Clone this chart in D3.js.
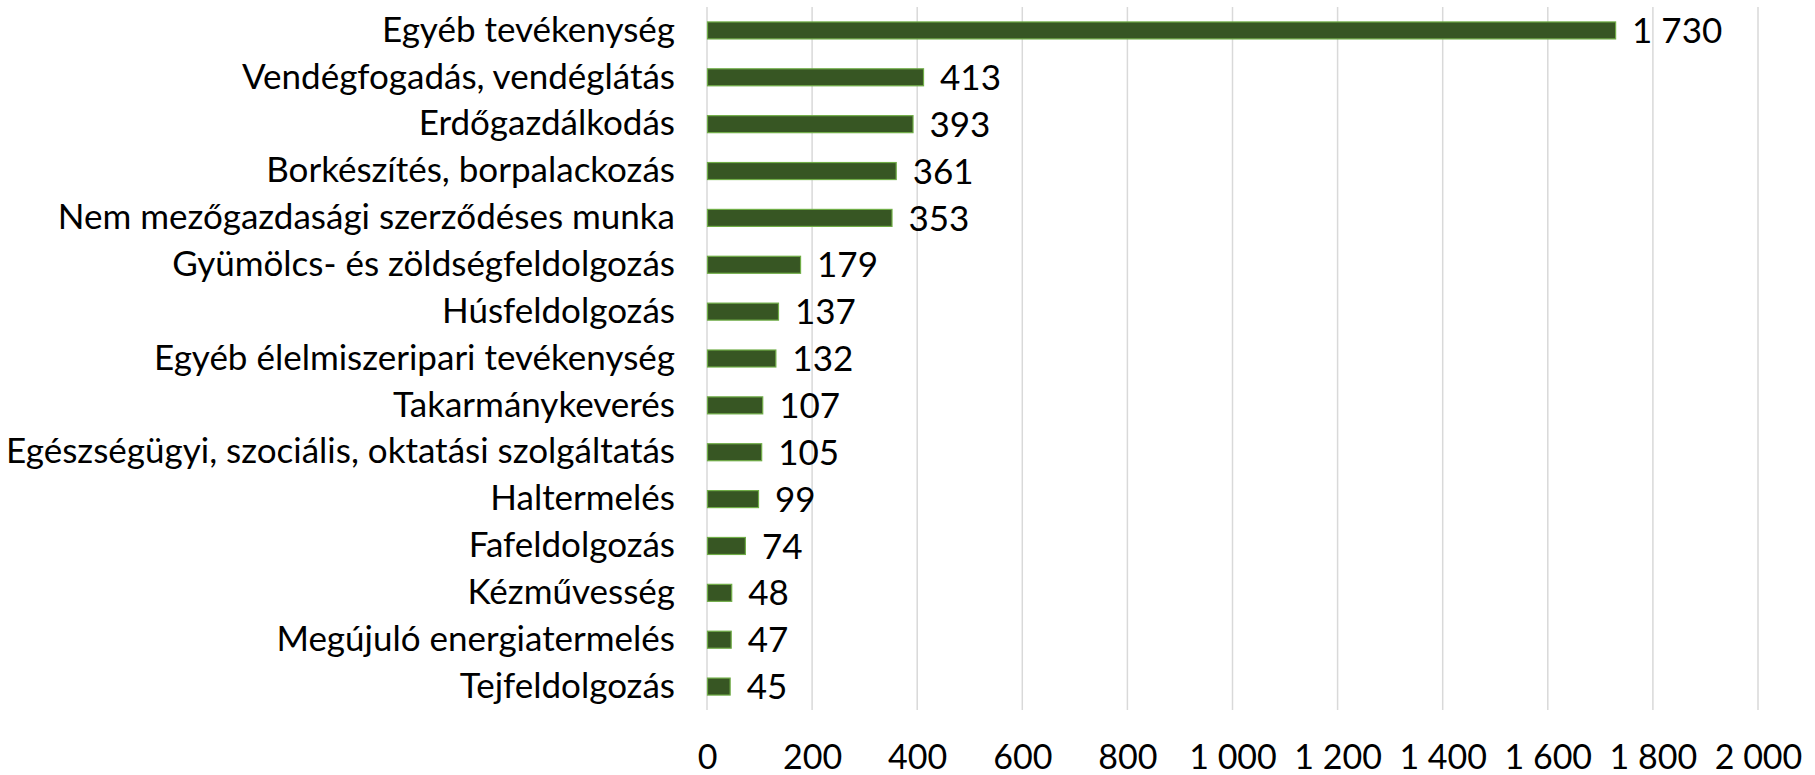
<!DOCTYPE html>
<html>
<head>
<meta charset="utf-8">
<script src="https://cdn.jsdelivr.net/npm/d3@7"></script>
<style>
  html, body { margin: 0; padding: 0; background: #fff; }
  svg { display: block; }
  text { font-family: Lato, "Open Sans", sans-serif; fill: #000; }
</style>
</head>
<body>
<svg id="chart" width="1815" height="775"></svg>
<script>
const categories = [
  "Egyéb tevékenység",
  "Vendégfogadás, vendéglátás",
  "Erdőgazdálkodás",
  "Borkészítés, borpalackozás",
  "Nem mezőgazdasági szerződéses munka",
  "Gyümölcs- és zöldségfeldolgozás",
  "Húsfeldolgozás",
  "Egyéb élelmiszeripari tevékenység",
  "Takarmánykeverés",
  "Egészségügyi, szociális, oktatási szolgáltatás",
  "Haltermelés",
  "Fafeldolgozás",
  "Kézművesség",
  "Megújuló energiatermelés",
  "Tejfeldolgozás"
];
const values = [1730, 413, 393, 361, 353, 179, 137, 132, 107, 105, 99, 74, 48, 47, 45];
const xTicks = [0, 200, 400, 600, 800, 1000, 1200, 1400, 1600, 1800, 2000];

(function () {
const locale = d3.formatLocale({ decimal: ",", thousands: "\u00a0", grouping: [3], currency: ["", " Ft"] });
const fmt = locale.format(",d");

const svg = d3.select("#chart");
const mLeft = 707, mRight = 1758, mTop = 7, mBottom = 710;

const x = d3.scaleLinear().domain([0, 2000]).range([mLeft, mRight]);
const y = d3.scaleBand().domain(categories).range([mTop, mBottom]).paddingInner(0.616).paddingOuter(0.308);

// gridlines
svg.append("g").selectAll("line").data(xTicks).join("line")
  .attr("x1", d => x(d)).attr("x2", d => x(d))
  .attr("y1", mTop).attr("y2", mBottom)
  .attr("stroke", "#d9d9d9").attr("stroke-width", 1.5);

// bottom axis labels
const xAxis = d3.axisBottom(x).tickValues(xTicks).tickFormat(fmt).tickSize(0).tickPadding(0);
const gx = svg.append("g").attr("transform", `translate(0, 757)`).call(xAxis);
gx.select(".domain").remove();
gx.selectAll("text").attr("font-size", 34).attr("font-family", "Lato, sans-serif").attr("fill", "#000").attr("dy", "0.35em");

// category labels
const yAxis = d3.axisLeft(y).tickSize(0).tickPadding(mLeft - 675);
const gy = svg.append("g").attr("transform", `translate(${mLeft}, 0)`).call(yAxis);
gy.select(".domain").remove();
gy.selectAll("text").attr("font-size", 35).attr("font-family", "Lato, sans-serif").attr("fill", "#000");

// bars
svg.append("g").selectAll("rect").data(values).join("rect")
  .attr("x", x(0) + 0.5)
  .attr("y", (d, i) => y(categories[i]) + 0.5)
  .attr("width", d => x(d) - x(0) - 1)
  .attr("height", y.bandwidth() - 1)
  .attr("fill", "#375623")
  .attr("stroke", "#70ad47")
  .attr("stroke-width", 1.2);

// value labels
svg.append("g").selectAll("text").data(values).join("text")
  .attr("x", d => x(d) + 16)
  .attr("y", (d, i) => y(categories[i]) + y.bandwidth() / 2)
  .attr("dy", "0.36em")
  .attr("font-size", 35)
  .text(d => fmt(d));
})();
</script>
</body>
</html>
